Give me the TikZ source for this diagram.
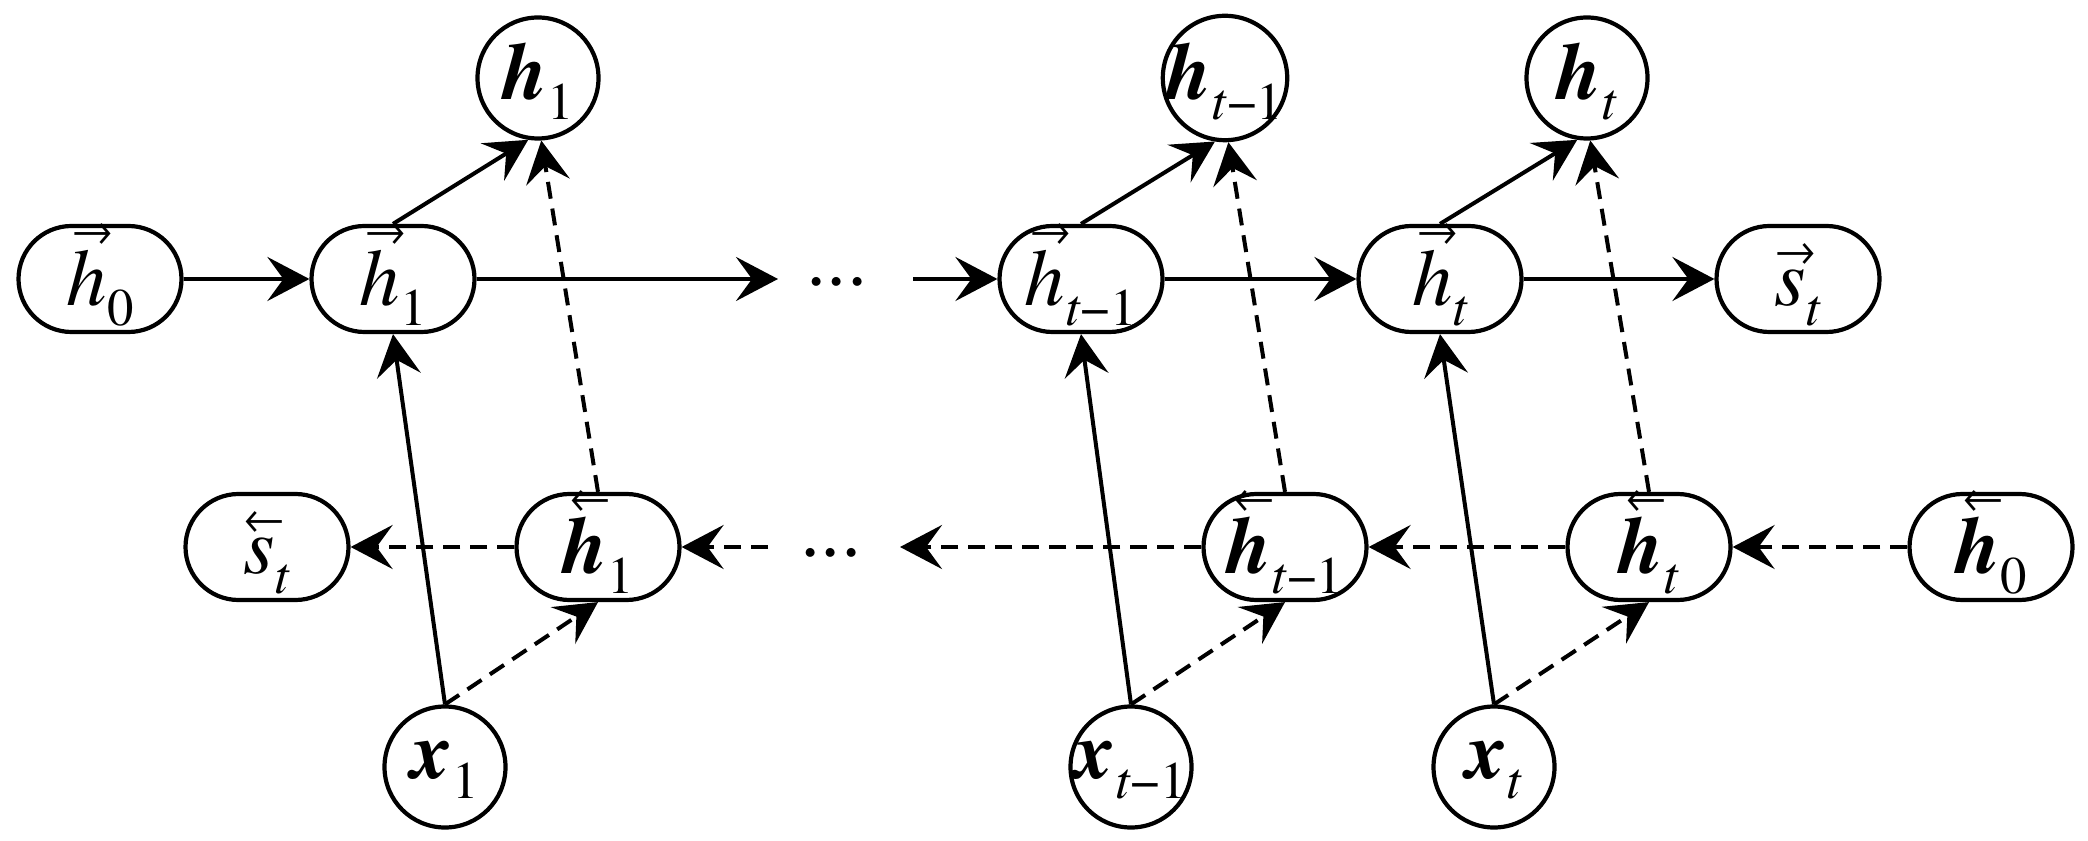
\documentclass[tikz,border=0pt]{standalone}
\usepackage{fontspec}
\setmainfont{TeX Gyre Termes}
\usetikzlibrary{positioning, shapes.misc, arrows.meta}

% arrow placed over a letter, without changing its width
\newcommand{\overarr}[2]{\leavevmode\setbox0\hbox{#2}%
  \rlap{\raise\dimexpr\ht0+1.6pt\relax\hbox to\wd0{\hss\kern3pt\fontsize{12}{12}\selectfont #1\hss}}\box0}
\newcommand{\fwd}[1]{\overarr{→}{#1}}
\newcommand{\bwd}[1]{\overarr{←}{#1}}
\newcommand{\sub}[1]{\raisebox{-0.2cm}{\fontsize{15}{15}\selectfont #1}}
\newcommand{\bh}{\textbf{\textit{h}}}
\newcommand{\bx}{\textbf{\textit{x}}}

\begin{document}
\begin{tikzpicture}[
	  font=\fontsize{23}{27}\selectfont,
	  hbox/.style={
	    draw,
	    rounded rectangle,
	    line width=0.042cm,
	    minimum width=1.63cm,
	    minimum height=1.06cm,
	    inner sep=0pt,
	    text height=0.53cm,
	    text depth=0pt
	  },
	  fwdbox/.style={hbox},
	  bwdbox/.style={hbox},
	  outnode/.style={
	    draw,
	    circle,
	    line width=0.042cm,
	    minimum size=1.21cm,
	    inner sep=0pt,
	    text height=0.44cm,
	    text depth=0pt
	  },
	  innode/.style={outnode, text height=0.22cm},
	  arrow/.style={-{Stealth[length=0.42cm,width=0.44cm,inset=0.16cm]}, line width=0.04cm},
	  darrow/.style={arrow, dash pattern=on 0.17cm off 0.1cm}
	]
	\useasboundingbox (0,0) rectangle (20.88,8.4);

	% --- Outputs (top) ---
	\node[outnode] (h1) at (5.38,7.62) {\bh\sub{1}};
	\node[outnode] (ht1) at (12.25,7.62) {\bh\sub{\textit{t}−1}};
	\node[outnode] (ht) at (15.87,7.62) {\bh\sub{\textit{t}}};

	% --- Forward row ---
	\node[fwdbox] (fh0) at (1.00,5.61) {\fwd{\textit{h}}\sub{0}};
	\node[fwdbox] (fh1) at (3.93,5.61) {\fwd{\textit{h}}\sub{1}};
	\node (fdots) at (8.37,5.58) {...};
	\node[fwdbox] (fht1) at (10.81,5.61) {\fwd{\textit{h}}\sub{\textit{t}−1}};
	\node[fwdbox] (fht) at (14.40,5.61) {\fwd{\textit{h}}\sub{\textit{t}}};
	\node[fwdbox] (fs) at (17.98,5.61) {\fwd{\textit{s}}\sub{\textit{t}}};
	\coordinate (fend) at (7.78,5.61);
	\coordinate (fstart) at (9.13,5.61);

	% --- Backward row ---
	\node[bwdbox] (bs) at (2.67,2.93) {\bwd{\textit{s}}\sub{\textit{t}}};
	\node[bwdbox] (bh1) at (5.98,2.93) {\bwd{\bh}\sub{1}};
	\node (bdots) at (8.31,2.87) {...};
	\node[bwdbox] (bht1) at (12.85,2.93) {\bwd{\bh}\sub{\textit{t}−1}};
	\node[bwdbox] (bht) at (16.49,2.93) {\bwd{\bh}\sub{\textit{t}}};
	\node[bwdbox] (bh0) at (19.91,2.93) {\bwd{\bh}\sub{0}};
	\coordinate (bend) at (9.00,2.93);
	\coordinate (bstart) at (7.68,2.93);

	% --- Inputs (bottom) ---
	\node[innode] (x1) at (4.45,0.73) {\bx\sub{1}};
	\node[innode] (xt1) at (11.31,0.73) {\bx\sub{\textit{t}−1}};
	\node[innode] (xt) at (14.94,0.73) {\bx\sub{\textit{t}}};

	% --- Forward flow ---
	\draw[arrow] (fh0.east) -- (fh1.west);
	\draw[arrow] (fh1.east) -- (fend);
	\draw[arrow] (fstart) -- (fht1.west);
	\draw[arrow] (fht1.east) -- (fht.west);
	\draw[arrow] (fht.east) -- (fs.west);

	% --- Backward flow ---
	\draw[darrow] (bh0.west) -- (bht.east);
	\draw[darrow] (bht.west) -- (bht1.east);
	\draw[darrow] (bht1.west) -- (bend);
	\draw[darrow] (bstart) -- (bh1.east);
	\draw[darrow] (bh1.west) -- (bs.east);

	% --- Inputs to both directions ---
	\draw[arrow] (x1.north) -- (fh1.south);
	\draw[darrow] (x1.north) -- (bh1.south);
	\draw[arrow] (xt1.north) -- (fht1.south);
	\draw[darrow] (xt1.north) -- (bht1.south);
	\draw[arrow] (xt.north) -- (fht.south);
	\draw[darrow] (xt.north) -- (bht.south);

	% --- Both directions to outputs ---
	\draw[arrow] (fh1.north) -- (h1.261);
	\draw[darrow] (bh1.north) -- (h1.273);
	\draw[arrow] (fht1.north) -- (ht1.261);
	\draw[darrow] (bht1.north) -- (ht1.273);
	\draw[arrow] (fht.north) -- (ht.261);
	\draw[darrow] (bht.north) -- (ht.273);

	\end{tikzpicture}
\end{document}
